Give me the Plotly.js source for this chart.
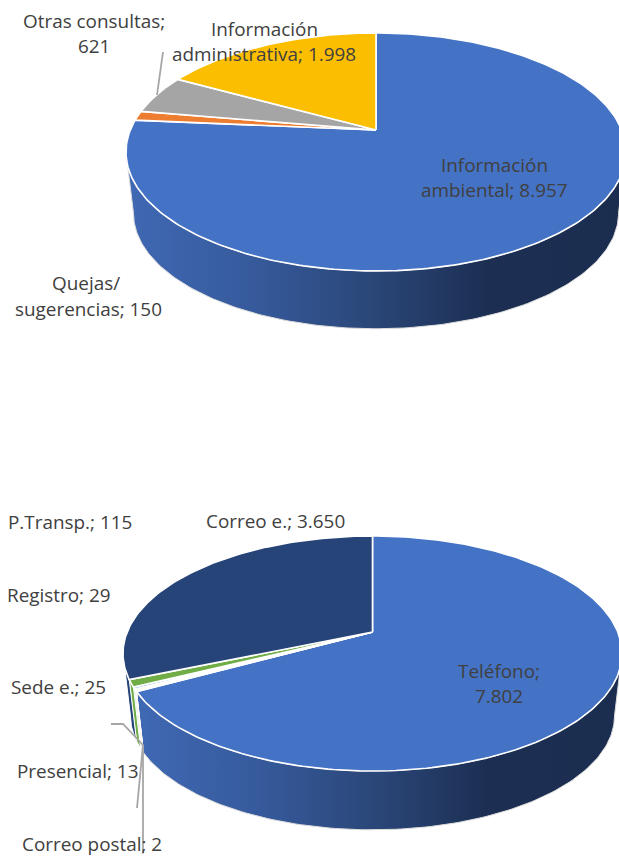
<!DOCTYPE html>
<html><head><meta charset="utf-8">
<script src="https://cdn.plot.ly/plotly-3.0.1.min.js"></script>
<style>html,body{margin:0;padding:0;background:#fff;overflow:hidden}#c{width:619px;height:858px}</style>
</head><body><div id="c"></div>
<script>
// ---- data ----
const topNames  = ['Información ambiental','Quejas/ sugerencias','Otras consultas','Información administrativa'];
const topValues = [8957,150,621,1998];
const topColors = ['#4472C4','#ED7D31','#A5A5A5','#FCBE00'];
const botNames  = ['Teléfono','Correo postal','Presencial','Sede e.','Registro','P.Transp.','Correo e.'];
const botValues = [7802,2,13,25,29,115,3650];
const botColors = ['#4472C4','#ED7D31','#A5A5A5','#FFC000','#5B9BD5','#70AD47','#264478'];

// data-label texts: [text, x, y] (one entry per printed line)
const labels = [
  ['Otras consultas;',94,21],['621',94,46],
  ['Información',264,29],['administrativa; 1.998',264,54],
  ['Información',494,165],['ambiental; 8.957',494,190],
  ['Quejas/',86,283],['sugerencias; 150',88,309],
  ['P.Transp.; 115',70,522],['Correo e.; 3.650',275,521],
  ['Registro; 29',59,595],['Sede e.; 25',58,687],
  ['Teléfono;',499,671],['7.802',499,696],
  ['Presencial; 13',77,771],['Correo postal; 2',92,844]
];
// leader lines
const leaders = [
  [[163,52],[157,95]],
  [[111,724],[123,724],[143,745]],
  [[143,745],[137,808]],
  [[143,745],[143,853]]
];
// pie perspective geometry
const pieTop = {cx:376,apex:130,up:97,down:141,rx:250,baseScale:0.97,baseShift:62};
const pieBot = {cx:372.5,apex:632,up:96,down:139,rx:249.5,baseScale:0.97,baseShift:63};

const wallScale = [[0,'#4069B4'],[0.25,'#365A9C'],[0.5,'#2A4677'],[0.72,'#1C2F53'],[1,'#1B2D4F']];

function project(g,deg,scale,shift){
  const k=(g.down-g.up)/(g.down+g.up), A=g.up*(1+k), R=g.rx*Math.sqrt(1-k*k);
  const t=deg*Math.PI/180, u=Math.sin(t), v=Math.cos(t), w=1+k*v;
  return [g.cx+scale*R*u/w, g.apex+shift-scale*A*v/w];
}
function arc(g,a,b,scale,shift){
  const n=Math.max(2,Math.ceil(Math.abs(b-a))), pts=[];
  for(let i=0;i<=n;i++) pts.push(project(g,a+(b-a)*i/n,scale,shift));
  return pts;
}
function poly(pts,extra){
  return Object.assign({type:'scatter',mode:'lines',x:pts.map(p=>p[0]),y:pts.map(p=>p[1]),
    fill:'toself',hoverinfo:'skip',showlegend:false},extra);
}
function pie(g,values,colors,names){
  const total=values.reduce((a,b)=>a+b,0);
  const k=(g.down-g.up)/(g.down+g.up), edge=Math.acos(-k)*180/Math.PI;
  const walls=[],caps=[]; let start=0;
  values.forEach((val,i)=>{
    const end=start+val/total*360;
    const a=Math.max(start,edge), b=Math.min(end,360-edge);
    if(b>a){
      const pts=arc(g,a,b,1,0).concat(arc(g,b,a,g.baseScale,g.baseShift));
      pts.push(pts[0]);
      const extra={name:names[i],line:{color:'#dcdcdc',width:1}};
      if(i===0){extra.fillgradient={type:'horizontal',colorscale:wallScale};}
      else{extra.fillcolor=colors[i];extra.line={color:'#ffffff',width:1};}
      walls.push(poly(pts,extra));
    }
    const pts=[[g.cx,g.apex]].concat(arc(g,start,end,1,0)); pts.push([g.cx,g.apex]);
    caps.push(poly(pts,{name:names[i],fillcolor:colors[i],line:{color:'#ffffff',width:1.6}}));
    start=end;
  });
  return walls.concat(caps);
}
const traces=pie(pieTop,topValues,topColors,topNames).concat(pie(pieBot,botValues,botColors,botNames));
const hidden={visible:false,fixedrange:true};
const layout={
  width:619,height:858,margin:{l:0,r:0,t:0,b:0},paper_bgcolor:'#fff',plot_bgcolor:'#fff',showlegend:false,
  xaxis:Object.assign({range:[0,619]},hidden),
  yaxis:Object.assign({range:[858,0]},hidden),
  shapes:leaders.map(l=>({type:'path',xref:'x',yref:'y',
    path:l.map((p,i)=>(i?'L':'M')+p[0]+' '+p[1]).join(' '),
    line:{color:'#A6A6A6',width:1.8}})),
  annotations:labels.map(l=>({text:l[0],x:l[1],y:l[2],xref:'x',yref:'y',showarrow:false,
    xanchor:'center',yanchor:'middle',font:{family:'"Open Sans",sans-serif',size:18.9,color:'#404040'}}))
};
Plotly.newPlot('c',traces,layout,{displayModeBar:false,staticPlot:true});
</script></body></html>
